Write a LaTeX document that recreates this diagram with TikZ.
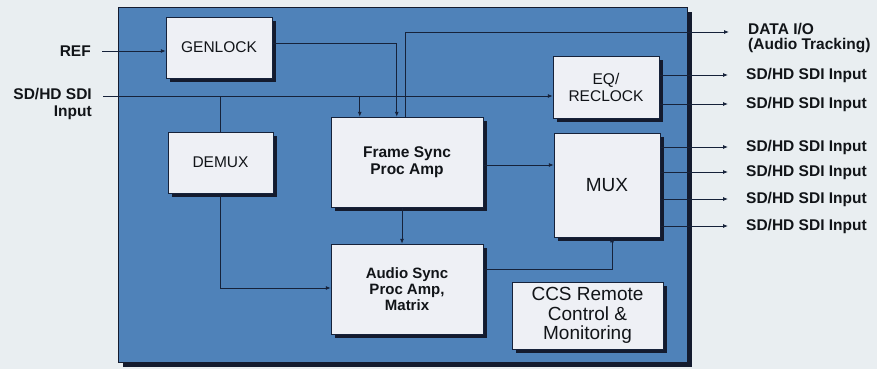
\documentclass[tikz,border=0pt]{standalone}
\usepackage{fontspec}
\setmainfont{Liberation Sans}
\usepackage{xcolor}
\usetikzlibrary{arrows.meta,positioning,calc,shadows}
\definecolor{paper} {HTML}{E9EEF1}
\definecolor{panel} {HTML}{4F82B9}
\definecolor{boxbg} {HTML}{EEF0F5}
\definecolor{shade} {HTML}{141B2E}
\definecolor{wire}  {HTML}{16223A}
\definecolor{ink}   {HTML}{111418}
\tikzset{
  unitbox/.style ={draw=shade, fill=panel, line width=0.8pt,
                   drop shadow={shadow xshift=5pt, shadow yshift=-5pt,
                                fill=shade, opacity=1}},
  blk/.style     ={draw=wire, fill=boxbg, line width=0.5pt, text=ink,
                   align=center, inner sep=2pt,
                   font=\fontsize{15.5}{17}\selectfont,
                   drop shadow={shadow xshift=4pt, shadow yshift=-4pt,
                                fill=shade, opacity=1}},
  bblk/.style    ={blk, font=\fontsize{15.5}{17}\selectfont\bfseries},
  bigblk/.style  ={blk, font=\fontsize{19}{19.5}\selectfont},
  link/.style    ={draw=wire, line width=0.8pt},
  arr/.style     ={link, -{Latex[length=5pt,width=4pt]}},
  lbl/.style     ={font=\fontsize{15.5}{17}\selectfont\bfseries, text=ink,
                   inner sep=0pt},
}
\begin{document}
\begin{tikzpicture}[x=1pt,y=-1pt]
  \fill[paper] (0,0) rectangle (877,369);
  \useasboundingbox (0,0) rectangle (877,369);

  % unit panel
  \node[unitbox, minimum width=569pt, minimum height=355pt] (unit) at (402.5,184.5) {};

  % blocks
  \node[blk, minimum width=106pt, minimum height=61pt] (genlock) at (219,47.5) {GENLOCK};
  \node[blk, minimum width=105pt, minimum height=61pt] (demux) at (220.5,162.5) {DEMUX};
  \node[bblk, minimum width=152pt, minimum height=90pt] (frame) at (407,162) {Frame Sync\\Proc Amp};
  \node[bblk, minimum width=152pt, minimum height=90pt,
        font=\fontsize{15}{16}\selectfont\bfseries] (audio) at (407,289) {Audio Sync\\Proc Amp,\\Matrix};
  \node[blk, minimum width=106pt, minimum height=62pt] (eq) at (606,87) {EQ/\\RECLOCK};
  \node[bigblk, minimum width=106pt, minimum height=104pt] (mux) at (607,185) {MUX};
  \node[bigblk, minimum width=151pt, minimum height=67pt] (ccs) at (587.5,315.5) {CCS Remote\\Control \&\\Monitoring};

  % inputs
  \node[lbl, anchor=east] (ref) at (91,51) {REF};
  \node[lbl, anchor=north east, align=right] (sdi) at (92,88) {SD/HD SDI\\Input};
  \coordinate (busin) at (103,96);

  % outputs
  \node[lbl, anchor=west, align=left, font=\fontsize{15.5}{15.5}\selectfont\bfseries] (dataio) at (748,38) {DATA I/O\\(Audio Tracking)};
  \node[lbl, anchor=west] (eqo1) at (746,75) {SD/HD SDI Input};
  \node[lbl, anchor=west] (eqo2) at (746,104) {SD/HD SDI Input};
  \node[lbl, anchor=west] (muxo1) at (746,147) {SD/HD SDI Input};
  \node[lbl, anchor=west] (muxo2) at (746,172) {SD/HD SDI Input};
  \node[lbl, anchor=west] (muxo3) at (746,199) {SD/HD SDI Input};
  \node[lbl, anchor=west] (muxo4) at (746,226) {SD/HD SDI Input};

  % connections
  \draw[arr] ([xshift=11pt]ref.east) -- (ref.east -| genlock.west);
  \draw[arr] (busin) -- (busin -| eq.west);
  \draw[link] (busin -| demux.north) -- (demux.north);
  \draw[arr] (busin -| {$(frame.north west)+(29pt,0)$}) -- ([xshift=29pt]frame.north west);
  \draw[arr] ([yshift=4.5pt]genlock.east) -| ([xshift=66pt]frame.north west);
  \draw[arr] ([xshift=75pt]frame.north west) |- ([xshift=-19pt,yshift=6pt]dataio.west);
  \draw[arr] ([yshift=-3pt]frame.east) -- ([yshift=-3pt]frame.east -| mux.west);
  \draw[arr] ([xshift=-5pt]frame.south) -- ([xshift=-5pt]audio.north);
  \draw[arr] (demux.south) |- ([yshift=1pt]audio.west);
  \draw[arr] ([yshift=20pt]audio.east) -| ([xshift=5pt]mux.south);

  \draw[arr] (eq.east |- eqo1) -- ([xshift=-18pt]eqo1.west);
  \draw[arr] (eq.east |- eqo2) -- ([xshift=-18pt]eqo2.west);
  \draw[arr] (mux.east |- muxo1) -- ([xshift=-18pt]muxo1.west);
  \draw[arr] (mux.east |- muxo2) -- ([xshift=-18pt]muxo2.west);
  \draw[arr] (mux.east |- muxo3) -- ([xshift=-18pt]muxo3.west);
  \draw[arr] (mux.east |- muxo4) -- ([xshift=-18pt]muxo4.west);
\end{tikzpicture}
\end{document}
